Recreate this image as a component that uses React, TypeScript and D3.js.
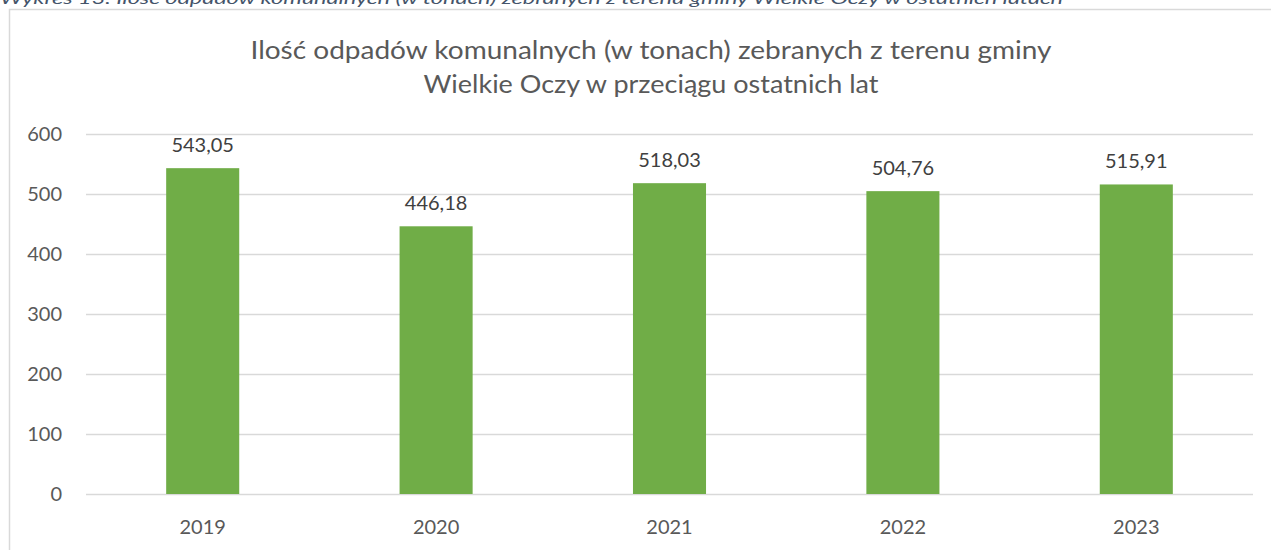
import React from 'react'
import * as d3 from 'd3'

const years = ['2019', '2020', '2021', '2022', '2023']
const tonnes = [543.05, 446.18, 518.03, 504.76, 515.91]
const yTicks = [0, 100, 200, 300, 400, 500, 600]
const caption = 'Wykres 13. Ilość odpadów komunalnych (w tonach) zebranych z terenu gminy Wielkie Oczy w ostatnich latach'
const titleLines = [
  'Ilość odpadów komunalnych (w tonach) zebranych z terenu gminy',
  'Wielkie Oczy w przeciągu ostatnich lat',
]

const width = 1271
const height = 550
const plot = { left: 86, right: 1253, top: 134, bottom: 494 }
const font = 'Lato, "Open Sans", sans-serif'
const textColor = '#595959'

export default function App() {
  const x = d3.scaleBand<string>()
    .domain(years)
    .range([plot.left, plot.right])
    .paddingInner(0.687)
    .paddingOuter(0.687 / 2)

  const y = d3.scaleLinear()
    .domain([0, 600])
    .range([plot.bottom, plot.top])

  const fmt = (v: number) => d3.format('.2f')(v).replace('.', ',')

  return (
    <div style={{ position: 'absolute', left: 0, top: 0 }}>
      <svg width={width} height={height} style={{ display: 'block', background: '#fff' }}>
        {/* caption above the frame, clipped by the page edge as in the source */}
        <text
          x={0}
          y={4}
          fontFamily={font}
          fontStyle="italic"
          fontSize={16}
          fill="#44546a"
          textLength={1063}
          lengthAdjust="spacingAndGlyphs"
        >
          {caption}
        </text>

        <rect x={9.5} y={9.5} width={1290} height={600} fill="#fff" stroke="#d9d9d9" strokeWidth={1.5} />

        {titleLines.map((line, i) => (
          <text
            key={line}
            x={651}
            y={59 + i * 34}
            textAnchor="middle"
            fontFamily={font}
            fontSize={25}
            fill={textColor}
            textLength={i === 0 ? 801 : 455}
            lengthAdjust="spacingAndGlyphs"
          >
            {line}
          </text>
        ))}

        {yTicks.map((t) => (
          <g key={t}>
            <line
              x1={plot.left}
              x2={plot.right}
              y1={Math.round(y(t)) + 0.5}
              y2={Math.round(y(t)) + 0.5}
              stroke="#d9d9d9"
              strokeWidth={1.3}
            />
            <text
              x={62}
              y={y(t) + 7}
              textAnchor="end"
              fontFamily={font}
              fontSize={20}
              fill={textColor}
            >
              {t}
            </text>
          </g>
        ))}

        {years.map((yr, i) => (
          <g key={yr}>
            <rect
              x={x(yr)}
              y={y(tonnes[i])}
              width={x.bandwidth()}
              height={y(0) - y(tonnes[i])}
              fill="#70ad47"
            />
            <text
              x={(x(yr) ?? 0) + x.bandwidth() / 2}
              y={y(tonnes[i]) - 16}
              textAnchor="middle"
              fontFamily={font}
              fontSize={20}
              fill="#404040"
            >
              {fmt(tonnes[i])}
            </text>
            <text
              x={(x(yr) ?? 0) + x.bandwidth() / 2}
              y={534}
              textAnchor="middle"
              fontFamily={font}
              fontSize={20}
              fill={textColor}
            >
              {yr}
            </text>
          </g>
        ))}
      </svg>
    </div>
  )
}
